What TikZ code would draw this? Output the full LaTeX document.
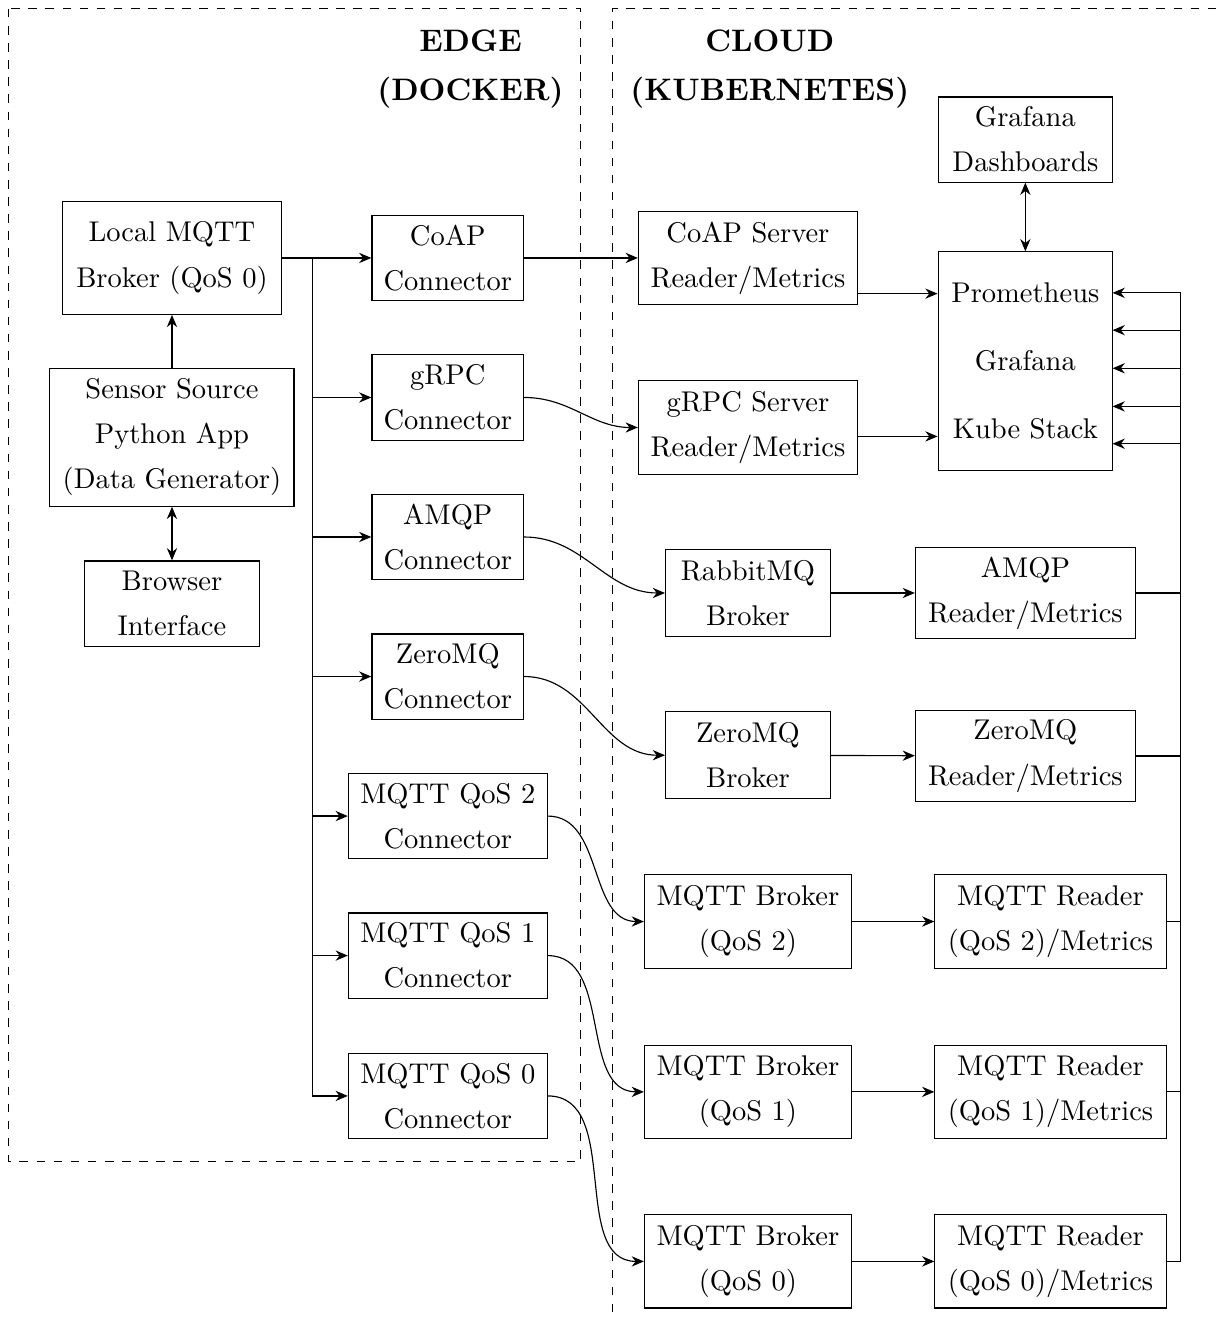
\documentclass[tikz,border=0pt]{standalone}
\usepackage{amsmath, amssymb}
\usepackage{xcolor}
\usepackage{tikz}
\usetikzlibrary{positioning, arrows.meta, shapes}

\begin{document}
\begin{tikzpicture}[
    box_style/.style={draw, rectangle, align=center, inner sep=2pt, font=\linespread{1.32}\selectfont},
    conn_style/.style={box_style, minimum width=1.87cm, minimum height=1.05cm},
    qos_style/.style={box_style, minimum width=2.45cm, minimum height=1.05cm},
    srv_style/.style={box_style, minimum width=2.70cm, minimum height=1.15cm},
    brk_style/.style={box_style, minimum width=2.03cm, minimum height=1.07cm},
    mbrk_style/.style={box_style, minimum width=2.55cm, minimum height=1.15cm},
    rd_style/.style={box_style, minimum width=2.71cm, minimum height=1.13cm},
    mrd_style/.style={box_style, minimum width=2.85cm, minimum height=1.15cm},
    zone_style/.style={dashed},
    head_style/.style={align=center, font=\fontsize{10.9pt}{17.2pt}\selectfont\bfseries},
    arrow_style/.style={-{Stealth[length=4.3pt, width=3.6pt]}},
    both_style/.style={{Stealth[length=4.3pt, width=3.6pt]}-{Stealth[length=4.3pt, width=3.6pt]}}
]
    \useasboundingbox (0,0) rectangle (15.04,-16.26);

    % Zones
    \draw[zone_style] (0.11,-0.11) rectangle (7.16,-14.32);
    \draw[zone_style] (7.55,-16.6) -- (7.55,-0.11) -- (15.4,-0.11);
    \node[head_style] (edgehead) at (5.80,-0.85) {EDGE\\(DOCKER)};
    \node[head_style] (cloudhead) at (9.49,-0.85) {CLOUD\\(KUBERNETES)};

    % Coordinates
    \coordinate (lbus) at (3.85,0);
    \coordinate (rbus) at (14.55,0);
    \coordinate (in1) at (13.715,-3.61);
    \coordinate (in2) at (13.715,-4.07);
    \coordinate (in3) at (13.715,-4.54);
    \coordinate (in4) at (13.715,-5.01);
    \coordinate (in5) at (13.715,-5.47);

    % Edge side
    \node[box_style, minimum width=2.69cm, minimum height=1.39cm] (local) at (2.12,-3.18) {Local MQTT\\Broker (QoS 0)};
    \node[box_style, minimum width=3.01cm, minimum height=1.70cm] (sensor) at (2.12,-5.39) {Sensor Source\\Python App\\(Data Generator)};
    \node[box_style, minimum width=2.15cm, minimum height=1.05cm] (browser) at (2.12,-7.44) {Browser\\Interface};

    \node[conn_style] (coapc) at (5.52,-3.18) {CoAP\\Connector};
    \node[conn_style] (grpcc) at (5.52,-4.90) {gRPC\\Connector};
    \node[conn_style] (amqpc) at (5.52,-6.62) {AMQP\\Connector};
    \node[conn_style] (zmqc) at (5.52,-8.34) {ZeroMQ\\Connector};
    \node[qos_style] (qos2c) at (5.52,-10.06) {MQTT QoS 2\\Connector};
    \node[qos_style] (qos1c) at (5.52,-11.78) {MQTT QoS 1\\Connector};
    \node[qos_style] (qos0c) at (5.52,-13.51) {MQTT QoS 0\\Connector};

    % Cloud side
    \node[srv_style] (coapsrv) at (9.22,-3.18) {CoAP Server\\Reader/Metrics};
    \node[srv_style] (grpcsrv) at (9.22,-5.27) {gRPC Server\\Reader/Metrics};
    \node[brk_style] (rabbit) at (9.22,-7.31) {RabbitMQ\\Broker};
    \node[brk_style] (zmqbrk) at (9.22,-9.31) {ZeroMQ\\Broker};
    \node[mbrk_style] (mbrk2) at (9.22,-11.36) {MQTT Broker\\(QoS 2)};
    \node[mbrk_style] (mbrk1) at (9.22,-13.46) {MQTT Broker\\(QoS 1)};
    \node[mbrk_style] (mbrk0) at (9.22,-15.55) {MQTT Broker\\(QoS 0)};

    \node[rd_style] (amqprd) at (12.64,-7.31) {AMQP\\Reader/Metrics};
    \node[rd_style] (zmqrd) at (12.64,-9.32) {ZeroMQ\\Reader/Metrics};
    \node[mrd_style] (mrd2) at (12.95,-11.36) {MQTT Reader\\(QoS 2)/Metrics};
    \node[mrd_style] (mrd1) at (12.95,-13.46) {MQTT Reader\\(QoS 1)/Metrics};
    \node[mrd_style] (mrd0) at (12.95,-15.55) {MQTT Reader\\(QoS 0)/Metrics};

    \node[box_style, minimum width=2.15cm, minimum height=2.69cm] (prom) at (12.64,-4.45) {Prometheus\\[8pt]Grafana\\[8pt]Kube Stack};
    \node[box_style, minimum width=2.15cm, minimum height=1.05cm] (grafana) at (12.64,-1.72) {Grafana\\Dashboards};

    % Edges
    \draw[arrow_style] (sensor) -- (local);
    \draw[both_style] (sensor) -- (browser);
    \foreach \n in {coapc, grpcc, amqpc, zmqc, qos2c, qos1c, qos0c}
        \draw[arrow_style] (local.east) -- (local.east -| lbus) |- (\n.west);

    \draw[arrow_style] (coapc) -- (coapsrv);
    \draw[arrow_style] (grpcc.east) to[out=0, in=180] (grpcsrv.west);
    \draw[arrow_style] (amqpc.east) to[out=0, in=180] (rabbit.west);
    \draw[arrow_style] (zmqc.east) to[out=0, in=180] (zmqbrk.west);
    \draw[arrow_style] (qos2c.east) to[out=0, in=180] (mbrk2.west);
    \draw[arrow_style] (qos1c.east) to[out=0, in=180] (mbrk1.west);
    \draw[arrow_style] (qos0c.east) to[out=0, in=180] (mbrk0.west);

    \draw[arrow_style] (rabbit) -- (amqprd);
    \draw[arrow_style] (zmqbrk) -- (zmqrd);
    \draw[arrow_style] (mbrk2) -- (mrd2);
    \draw[arrow_style] (mbrk1) -- (mrd1);
    \draw[arrow_style] (mbrk0) -- (mrd0);

    % Into Prometheus
    \coordinate (coapout) at ([yshift=-4.4mm]coapsrv.east);
    \coordinate (grpcout) at ([yshift=-1.1mm]grpcsrv.east);
    \draw[arrow_style] (coapout) -- (coapout -| prom.west);
    \draw[arrow_style] (grpcout) -- (grpcout -| prom.west);
    \foreach \src/\k in {amqprd/1, zmqrd/2, mrd2/3, mrd1/4, mrd0/5}
        \draw[arrow_style] (\src.east) -| (rbus |- in\k) -- (in\k);
    \draw[both_style] (grafana) -- (prom);
\end{tikzpicture}
\end{document}
